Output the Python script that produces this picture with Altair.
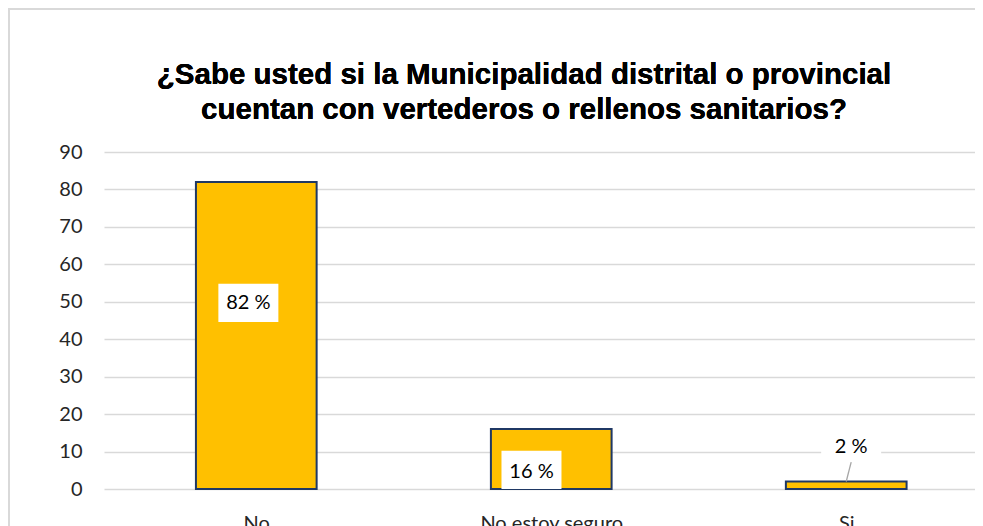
import altair as alt
import pandas as pd

categories = ["No", "No estoy seguro", "Si"]
values = [82, 16, 2]
labels = ["82 %", "16 %", "2 %"]
label_at = [49.7, 4.6, 11.2]
box_lo = [44.6, 0.0, 7.2]
box_hi = [54.8, 10.2, 15.0]
label_shift = [-8, -20, 5]
title_lines = ["¿Sabe usted si la Municipalidad distrital o provincial",
               "cuentan con vertederos o rellenos sanitarios?"]

STEP = 298.4  # pixels per category
W = 871
df = pd.DataFrame({
    "idx": list(range(len(categories))), "cat": categories, "val": values,
    "lab": labels, "ly": label_at, "lo": box_lo, "hi": box_hi, "shift": label_shift,
})

FONT = "Lato"
label_expr = "[" + ",".join("'" + c + "'" for c in categories) + "][datum.value]"
xscale = alt.Scale(domain=[-0.4993, -0.4993 + W / STEP], nice=False, zero=False)
xaxis = alt.Axis(title=None, values=list(range(len(categories))), labelExpr=label_expr,
                 labelAngle=0, domain=False, ticks=False, grid=False,
                 labelFontSize=20, labelColor="#262626", labelFont=FONT, labelPadding=24)
yscale = alt.Scale(domain=[0, 90], nice=False, zero=True)
yaxis = alt.Axis(title=None, values=list(range(0, 91, 10)), domain=False, ticks=False,
                 labelFontSize=20, labelColor="#262626", labelFont=FONT,
                 labelPadding=22, gridColor="#D9D9D9", gridWidth=1.5, labelOverlap=False)

base = alt.Chart(df).transform_calculate(
    lx=f"datum.idx + datum.shift / {STEP}",
    rx=f"datum.idx + 5 / {STEP}",
)

bars = base.mark_bar(color="#FFC000", stroke="#1F3864", strokeWidth=2, width=120.7).encode(
    x=alt.X("idx:Q", scale=xscale, axis=xaxis),
    y=alt.Y("val:Q", scale=yscale, axis=yaxis),
)

leader = base.transform_filter(alt.datum.cat == "Si").mark_rule(
    color="#A6A6A6", strokeWidth=1.3).encode(
    x=alt.X("idx:Q", scale=xscale, axis=xaxis), x2="rx:Q",
    y=alt.Y("val:Q", scale=yscale, axis=yaxis), y2="lo:Q",
)

boxes = base.mark_bar(color="white", width=60).encode(
    x=alt.X("lx:Q", scale=xscale, axis=xaxis),
    y=alt.Y("lo:Q", scale=yscale, axis=yaxis), y2="hi:Q",
)

texts = base.mark_text(fontSize=20, font=FONT, color="#000000").encode(
    x=alt.X("lx:Q", scale=xscale, axis=xaxis),
    y=alt.Y("ly:Q", scale=yscale, axis=yaxis), text="lab:N",
)

border = alt.Chart(df).mark_rect(fill=None, stroke="#D9D9D9", strokeWidth=2).encode(
    x=alt.value(-95), x2=alt.value(990), y=alt.value(-143), y2=alt.value(500),
)

title1 = alt.Chart(df).mark_text(
    text=title_lines[0], font="Liberation Sans", fontSize=29.5, fontWeight="bold",
    color="#000000", align="center", baseline="middle",
).encode(x=alt.value(420), y=alt.value(-77))
title2 = alt.Chart(df).mark_text(
    text=title_lines[1], font="Liberation Sans", fontSize=29.5, fontWeight="bold",
    color="#000000", align="center", baseline="middle",
).encode(x=alt.value(420), y=alt.value(-42))

chart = alt.layer(border, bars, leader, boxes, texts, title1, title2).properties(
    width=W, height=337,
    autosize=alt.AutoSizeParams(type="none"),
    padding={"left": 96, "top": 144, "right": 0, "bottom": 45},
).configure_view(stroke=None)

chart.save("out.html", embed_options={"renderer": "svg", "actions": False})
